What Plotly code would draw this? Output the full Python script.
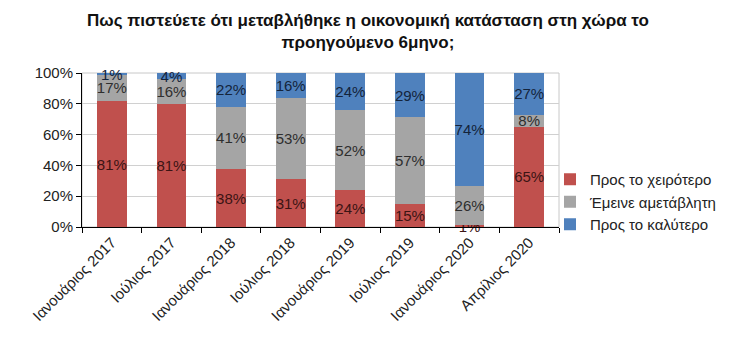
import plotly.graph_objects as go

categories = ["Ιανουάριος 2017", "Ιούλιος 2017", "Ιανουάριος 2018", "Ιούλιος 2018",
              "Ιανουάριος 2019", "Ιούλιος 2019", "Ιανουάριος 2020", "Απρίλιος 2020"]
worse = [81, 81, 38, 31, 24, 15, 1, 65]
same = [17, 16, 41, 53, 52, 57, 26, 8]
better = [1, 4, 22, 16, 24, 29, 74, 27]
series_names = ["Προς το χειρότερο", "Έμεινε αμετάβλητη", "Προς το καλύτερο"]
y_ticks = [0, 20, 40, 60, 80, 100]
y_tick_labels = ["0%", "20%", "40%", "60%", "80%", "100%"]
title_text = "<b>Πως πιστεύετε ότι μεταβλήθηκε η οικονομική κατάσταση στη χώρα το<br>προηγούμενο 6μηνο;</b>"

colors = ["#c0504d", "#a5a5a5", "#4f81bd"]
text_colors = ["#3b1414", "#2e2e2e", "#14243b"]
FONT = "Liberation Sans, Arial, sans-serif"

L, R, T, B = 82, 192, 73, 122
W, H = 751, 349
pw, ph = W - L - R, H - T - B

fig = go.Figure()
for vals, name, col, tcol in zip([worse, same, better], series_names, colors, text_colors):
    fig.add_trace(go.Bar(
        x=categories, y=vals, name=name,
        marker=dict(color=col, line=dict(width=0)),
        text=[f"{v}%" for v in vals],
        textposition="inside", insidetextanchor="middle",
        textangle=0, constraintext="none", cliponaxis=False,
        textfont=dict(family=FONT, size=15, color=tcol),
        hoverinfo="skip",
    ))

fig.update_layout(
    width=W, height=H,
    margin=dict(l=L, r=R, t=T, b=B),
    barmode="stack", barnorm="percent", bargap=0.5,
    plot_bgcolor="white", paper_bgcolor="white",
    font=dict(family=FONT, size=14, color="#222222"),
    legend=dict(
        x=(550 - L) / pw, xanchor="left", y=(H - B - 163) / ph, yanchor="top",
        traceorder="normal", font=dict(family=FONT, size=15, color="#222222"),
        itemwidth=30, tracegroupgap=0, bgcolor="rgba(0,0,0,0)",
    ),
    xaxis=dict(
        type="category", tickson="boundaries", ticks="outside", ticklen=5,
        tickcolor="black", showline=True, linecolor="black", linewidth=1,
        showgrid=False, tickangle=-45,
        tickfont=dict(family=FONT, size=15, color="#222222"),
    ),
    yaxis=dict(
        range=[0, 100], tickvals=y_ticks, ticktext=y_tick_labels,
        ticks="outside", ticklen=5, tickcolor="black",
        showline=True, linecolor="black", linewidth=1,
        showgrid=True, gridcolor="#d0d0d0", gridwidth=1, zeroline=False,
        tickfont=dict(family=FONT, size=15, color="#222222"),
    ),
    annotations=[dict(
        text=title_text, xref="paper", yref="paper",
        x=(368 - L) / pw, xanchor="center",
        y=(H - B - 9) / ph, yanchor="top",
        showarrow=False, align="center",
        font=dict(family=FONT, size=17, color="#111111"),
    )],
    shapes=[dict(type="rect", xref="paper", yref="paper", x0=0, x1=1, y0=0, y1=1,
                 line=dict(color="#c8c8c8", width=1), layer="below")],
)

fig.write_html("out.html")
